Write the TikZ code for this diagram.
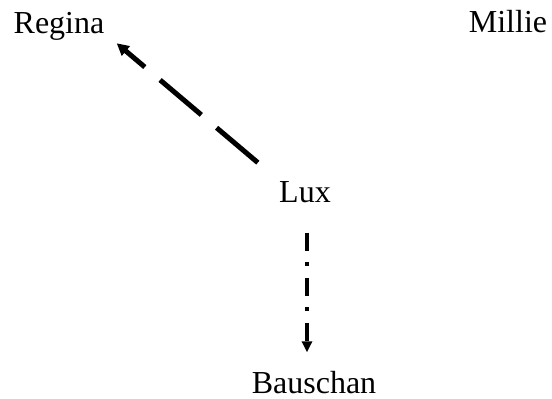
\documentclass[tikz,border=0pt]{standalone}
\usepackage{fontspec}
\setmainfont{Liberation Serif}
\usetikzlibrary{arrows.meta}
\tikzset{
  dog/.style={anchor=base, inner sep=0pt, font=\fontsize{16}{19}\selectfont},
  bigdash/.style={line width=2.5pt, dash pattern=on 27pt off 10pt,
    -{Triangle[length=6pt, width=6pt]}},
  dotdash/.style={line width=2pt, dash pattern=on 9pt off 5.5pt on 2pt off 6pt,
    -{Triangle[length=5.5pt, width=5pt]}}
}

\begin{document}
\begin{tikzpicture}[x=0.5pt, y=-0.5pt]
    \useasboundingbox (0,0) rectangle (552,399);
    \node[dog, inner xsep=6pt, inner ysep=1pt] (regina) at (59,34) {Regina};
    \node[dog] (millie) at (508,33) {Millie};
    \node[dog, inner xsep=10.5pt, inner ysep=9.5pt] (lux) at (305,203) {Lux};
    \node[dog, inner ysep=9.5pt] (bauschan) at (314,394) {Bauschan};
    \draw[bigdash] (lux.north west) -- (regina.south east);
    \draw[dotdash, shorten <=5pt] ([xshift=1pt]lux.south) -- ([xshift=1pt]lux.south |- bauschan.north);
  \end{tikzpicture}
\end{document}
